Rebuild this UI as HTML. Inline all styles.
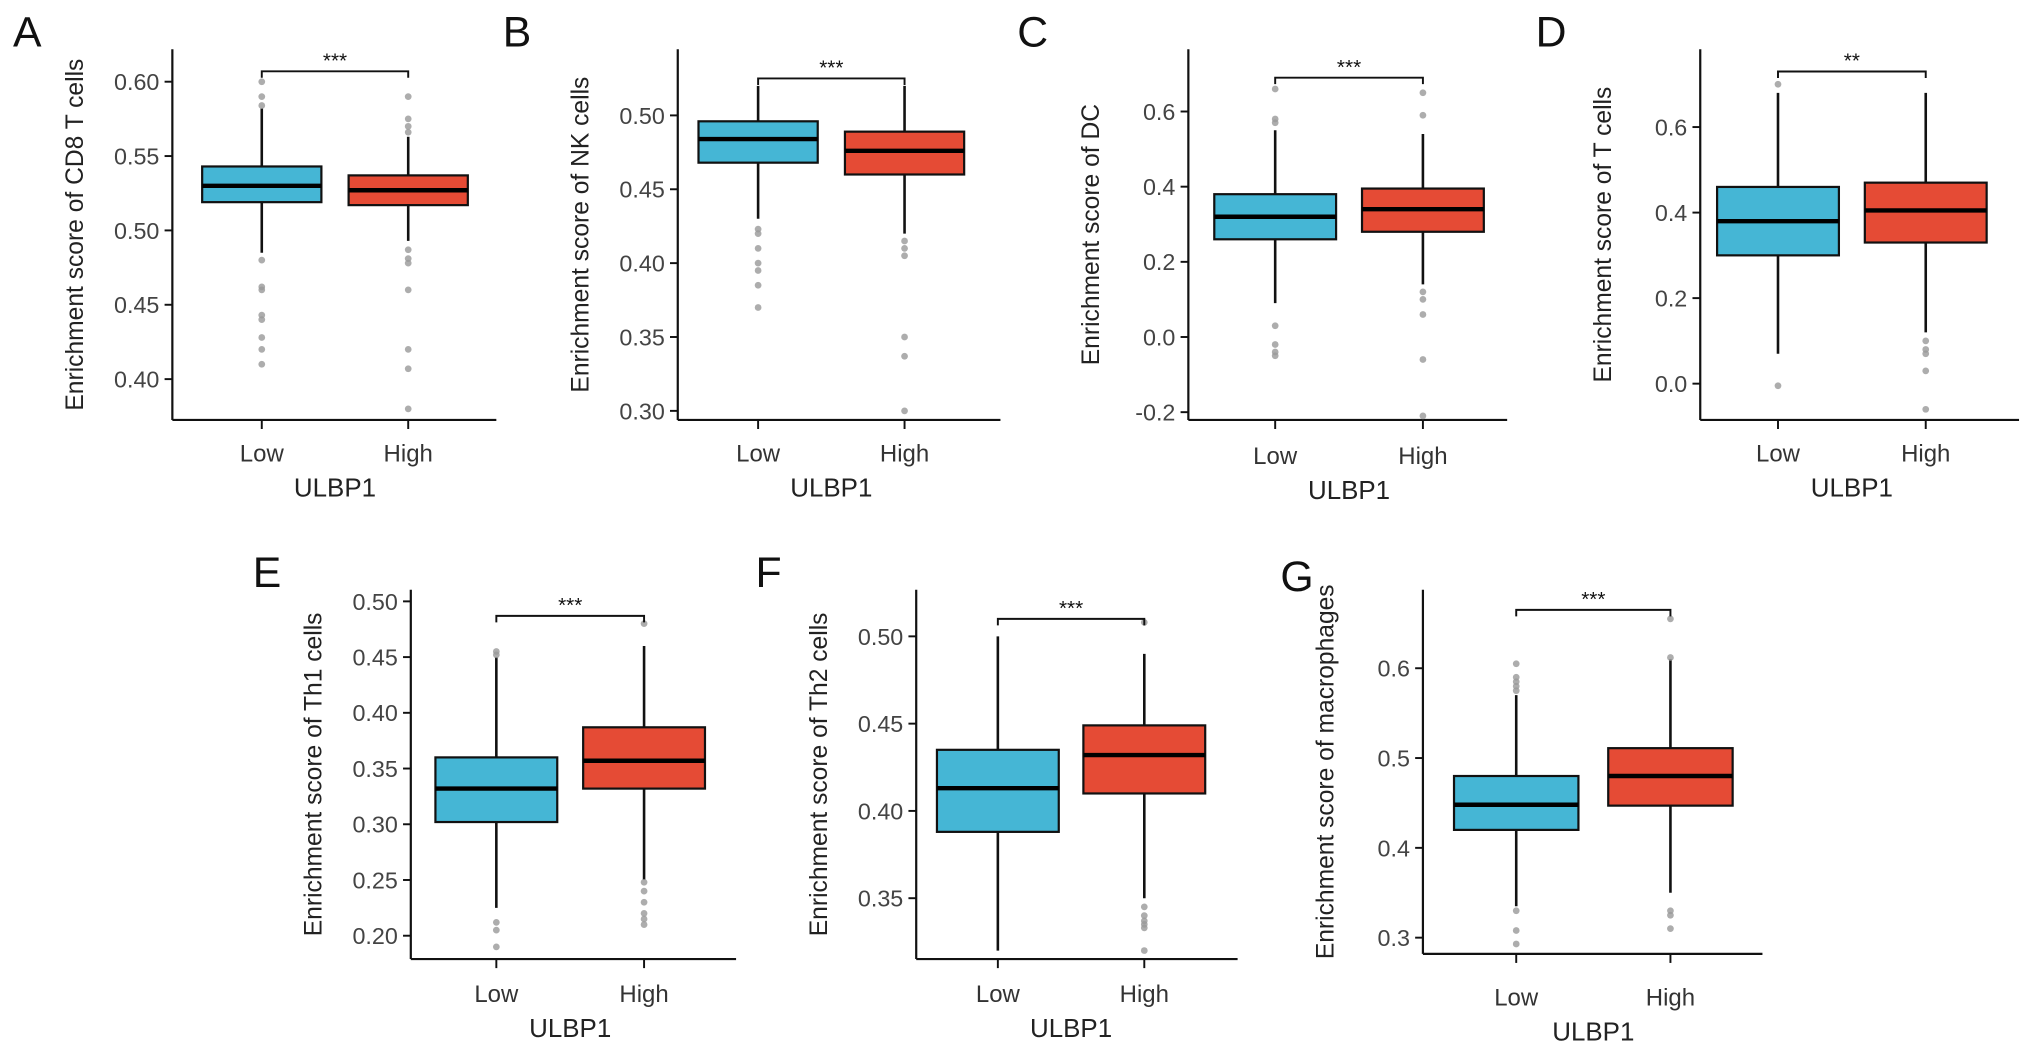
<!DOCTYPE html>
<html><head><meta charset="utf-8"><style>
html,body{margin:0;padding:0;background:#fff;}
svg{display:block;font-family:"Liberation Sans",Arial,sans-serif;}
</style></head>
<body>
<svg id="fig" width="2032" height="1055" viewBox="0 0 1568 814" xmlns="http://www.w3.org/2000/svg"></svg>
<script>
// ---- data arrays: [lowerWhisker, Q1, median, Q3, upperWhisker]
const groups = ["Low", "High"];
const A_ticks = [0.40, 0.45, 0.50, 0.55, 0.60];
const A_low = [0.485, 0.519, 0.530, 0.543, 0.582];
const A_high = [0.493, 0.517, 0.527, 0.537, 0.563];
const A_lowOut = [0.60, 0.59, 0.584, 0.48, 0.462, 0.46, 0.443, 0.44, 0.428, 0.42, 0.41];
const A_highOut = [0.59, 0.575, 0.57, 0.566, 0.487, 0.481, 0.478, 0.46, 0.42, 0.407, 0.38];
const B_ticks = [0.30, 0.35, 0.40, 0.45, 0.50];
const B_low = [0.43, 0.468, 0.484, 0.496, 0.52];
const B_high = [0.42, 0.46, 0.476, 0.489, 0.52];
const B_lowOut = [0.423, 0.42, 0.41, 0.40, 0.395, 0.385, 0.37];
const B_highOut = [0.415, 0.41, 0.405, 0.35, 0.337, 0.30];
const C_ticks = [-0.2, 0.0, 0.2, 0.4, 0.6];
const C_low = [0.09, 0.26, 0.32, 0.38, 0.55];
const C_high = [0.14, 0.28, 0.34, 0.395, 0.54];
const C_lowOut = [0.66, 0.58, 0.57, 0.03, -0.02, -0.04, -0.05];
const C_highOut = [0.65, 0.59, 0.12, 0.10, 0.06, -0.06, -0.21];
const D_ticks = [0.0, 0.2, 0.4, 0.6];
const D_low = [0.07, 0.30, 0.38, 0.46, 0.68];
const D_high = [0.12, 0.33, 0.405, 0.47, 0.68];
const D_lowOut = [0.70, -0.005];
const D_highOut = [0.10, 0.08, 0.07, 0.03, -0.06];
const E_ticks = [0.20, 0.25, 0.30, 0.35, 0.40, 0.45, 0.50];
const E_low = [0.225, 0.302, 0.332, 0.36, 0.45];
const E_high = [0.25, 0.332, 0.357, 0.387, 0.46];
const E_lowOut = [0.455, 0.452, 0.212, 0.205, 0.19];
const E_highOut = [0.48, 0.248, 0.24, 0.23, 0.22, 0.215, 0.21];
const F_ticks = [0.35, 0.40, 0.45, 0.50];
const F_low = [0.32, 0.388, 0.413, 0.435, 0.50];
const F_high = [0.35, 0.41, 0.432, 0.449, 0.49];
const F_lowOut = [];
const F_highOut = [0.508, 0.345, 0.34, 0.337, 0.335, 0.333, 0.32];
const G_ticks = [0.3, 0.4, 0.5, 0.6];
const G_low = [0.335, 0.42, 0.448, 0.48, 0.57];
const G_high = [0.35, 0.447, 0.48, 0.511, 0.61];
const G_lowOut = [0.605, 0.59, 0.585, 0.58, 0.575, 0.33, 0.308, 0.293];
const G_highOut = [0.655, 0.612, 0.33, 0.325, 0.31];
const sigs = ["***", "***", "***", "**", "***", "***", "***"];
const sigLevel = [0.607, 0.525, 0.69, 0.73, 0.487, 0.51, 0.665];
const titles = ["Enrichment score of CD8 T cells","Enrichment score of NK cells","Enrichment score of DC","Enrichment score of T cells","Enrichment score of Th1 cells","Enrichment score of Th2 cells","Enrichment score of macrophages"];
const letters = ["A","B","C","D","E","F","G"];

// ---- layout (not data)
const layout = [
 {ax:133, top:38, bot:324, right:383, v0:0.60, y0:63, k:1147.5, xl:202, xh:315, hw:46, lx:10, ly:36, dec:2, lab:356},
 {ax:523, top:38, bot:324, right:772, v0:0.50, y0:89, k:1140, xl:585, xh:698, hw:46, lx:388, ly:36, dec:2, lab:356},
 {ax:917, top:38, bot:324, right:1163, v0:0.6, y0:86, k:290, xl:984, xh:1098, hw:47, lx:785, ly:36, dec:1, lab:358},
 {ax:1312, top:38, bot:324, right:1558, v0:0.6, y0:98, k:330, xl:1372, xh:1486, hw:47, lx:1185, ly:36, dec:1, lab:356},
 {ax:317, top:455, bot:740, right:568, v0:0.50, y0:464, k:860, xl:383, xh:497, hw:47, lx:195, ly:453, dec:2, lab:773},
 {ax:707, top:455, bot:740, right:955, v0:0.50, y0:491, k:1347, xl:770, xh:883, hw:47, lx:583, ly:453, dec:2, lab:773},
 {ax:1098, top:455, bot:736, right:1360, v0:0.6, y0:515.6, k:693, xl:1170, xh:1289, hw:48, lx:988, ly:456, dec:1, lab:776}
];
const panelData = [
 [A_ticks,A_low,A_high,A_lowOut,A_highOut],[B_ticks,B_low,B_high,B_lowOut,B_highOut],
 [C_ticks,C_low,C_high,C_lowOut,C_highOut],[D_ticks,D_low,D_high,D_lowOut,D_highOut],
 [E_ticks,E_low,E_high,E_lowOut,E_highOut],[F_ticks,F_low,F_high,F_lowOut,F_highOut],
 [G_ticks,G_low,G_high,G_lowOut,G_highOut]
];
const NS = "http://www.w3.org/2000/svg";
const svg = document.getElementById("fig");
function mk(tag, attrs, parent){ const e=document.createElementNS(NS,tag); for(const k in attrs) e.setAttribute(k,attrs[k]); parent.appendChild(e); return e; }
const fills = ["#45B6D5", "#E54B35"];

panelData.forEach((pd, i) => {
  const L = layout[i];
  const [ticks, low, high, lowOut, highOut] = pd;
  const y = v => L.y0 + (L.v0 - v) * L.k;
  const g = mk("g", {}, svg);
  
  
  const lt = mk("text", {x:L.lx, y:L.ly, "font-size":33, fill:"#111"}, g);
  
  
  lt.textContent = letters[i];
  const ya = mk("line", {x1:L.ax, y1:L.top, x2:L.ax, y2:L.bot, stroke:"#111", "stroke-width":1.7}, g);
  
  
  const xa = mk("line", {x1:L.ax, y1:L.bot, x2:L.right, y2:L.bot, stroke:"#111", "stroke-width":1.7}, g);
  
  
  ticks.forEach(t => {
    const yy = y(t);
    mk("line", {x1:L.ax-6, y1:yy, x2:L.ax, y2:yy, stroke:"#111", "stroke-width":1.5}, g);
    const tl = mk("text", {x:L.ax-10, y:yy+6.5, "font-size":18, fill:"#444", "text-anchor":"end"}, g);
    
    
    tl.textContent = t.toFixed(L.dec);
  });
  const yt = mk("text", {x:0, y:0, "font-size":19, fill:"#222", "text-anchor":"middle", transform:`translate(${L.ax-69},${(L.top+L.bot)/2}) rotate(-90)`}, g);
  
  
  yt.textContent = titles[i];
  const xs = [L.xl, L.xh];
  [low, high].forEach((s, j) => {
    const cx = xs[j];
    mk("line", {x1:cx, y1:L.bot, x2:cx, y2:L.bot+7, stroke:"#111", "stroke-width":1.5}, g);
    const xl = mk("text", {x:cx, y:L.lab, "font-size":18.5, fill:"#333", "text-anchor":"middle"}, g);
    
    
    xl.textContent = groups[j];
    const w = mk("line", {x1:cx, y1:y(s[4]), x2:cx, y2:y(s[0]), stroke:"#111", "stroke-width":2}, g);
    
    
    const b = mk("rect", {x:cx-L.hw, y:y(s[3]), width:2*L.hw, height:y(s[1])-y(s[3]), fill:fills[j], stroke:"#111", "stroke-width":1.7}, g);
    
    
    const m = mk("line", {x1:cx-L.hw, y1:y(s[2]), x2:cx+L.hw, y2:y(s[2]), stroke:"#000", "stroke-width":3.4}, g);
    
    
    (j===0?lowOut:highOut).forEach(o => {
      const c = mk("circle", {cx:cx, cy:y(o), r:2.6, fill:"#999", "fill-opacity":0.8}, g);
      
      
    });
  });
  const by = y(sigLevel[i]);
  const br = mk("path", {d:`M${L.xl},${by+5} V${by} H${L.xh} V${by+5}`, fill:"none", stroke:"#111", "stroke-width":1.5}, g);
  
  
  const st = mk("text", {x:(L.xl+L.xh)/2, y:by-3, "font-size":16, fill:"#111", "text-anchor":"middle"}, g);
  
  
  st.textContent = sigs[i];
  const xt = mk("text", {x:(L.xl+L.xh)/2, y:L.lab+27, "font-size":20, fill:"#222", "text-anchor":"middle"}, g);
  
  
  xt.textContent = "ULBP1";
});
</script>
</body></html>
